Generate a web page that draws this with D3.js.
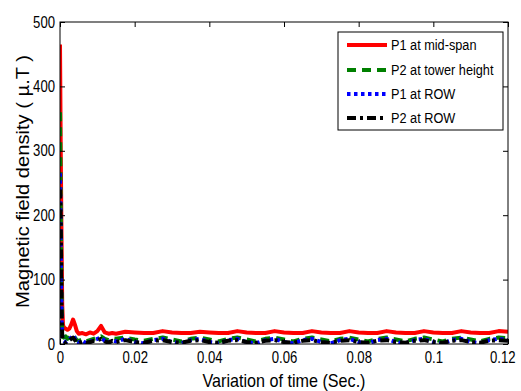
<!DOCTYPE html>
<html><head><meta charset="utf-8">
<script src="https://cdn.jsdelivr.net/npm/d3@7"></script>
<style>
body{margin:0;background:#fff;}
text{font-family:"Liberation Sans",Arial,sans-serif;}
</style></head><body>
<svg id="c" width="521" height="391"></svg>
<script>
const time = [0,0.0002,0.0004,0.0006,0.0008,0.001,0.0015,0.002,0.0025,0.003,0.0035,0.004,0.0045,0.005,0.006,0.007,0.008,0.009,0.010,0.011,0.012,0.013,0.014,0.015,
0.0175,0.02,0.0225,0.025,0.0275,0.03,0.0325,0.035,0.0375,0.04,0.0425,0.045,0.0475,0.05,0.0525,0.055,0.0575,0.06,0.0625,0.065,0.0675,0.07,0.0725,0.075,0.0775,0.08,0.0825,0.085,0.0875,0.09,0.0925,0.095,0.0975,0.1,0.1025,0.105,0.1075,0.11,0.1125,0.115,0.1175,0.12];
const p1Mid = [465,300,170,60,30,26,24,22,24,30,38,30,20,16,17,15,18,16,20,28,18,16,17,16,
19,18,17,17,20,18,17,17,19,18,17,17,20,18,17,17,20,18,17,17,20,18,17,17,20,18,17,17,20,18,17,17,20,18,17,17,20,18,17,17,20,19];
const p2Tower = [360,200,80,20,12,10,12,8,10,12,14,10,6,5,7,4,6,8,10,12,8,6,9,8,
10,7,5,8,10,7,4,8,10,7,4,8,10,7,4,8,10,7,4,8,10,7,4,8,10,7,4,8,10,7,4,8,10,7,4,8,10,7,4,8,10,9];
const p1Row = [265,150,40,12,6,5,3,6,8,10,14,8,3,2,5,1,3,6,8,10,5,2,6,4,
8,3,1,6,8,3,1,6,8,3,1,6,8,3,1,6,8,3,1,6,8,3,1,6,8,3,1,6,8,3,1,6,8,3,1,6,8,3,1,6,8,6];
const p2Row = [240,190,60,10,5,4,2,5,6,8,10,6,2,1,4,2,3,5,6,8,4,2,5,3,
6,3,2,5,6,3,2,5,6,3,2,5,6,3,2,5,6,3,2,5,6,3,2,5,6,3,2,5,6,3,2,5,6,3,2,5,6,3,2,5,6,5];
const seriesNames = ["P1 at mid-span","P2 at tower height","P1 at ROW","P2 at ROW"];
const xTicks = [0,0.02,0.04,0.06,0.08,0.1,0.12];
const xTickLabels = ["0","0.02","0.04","0.06","0.08","0.1","0.12"];
const yTicks = [0,100,200,300,400,500];

const seriesData = [p1Mid,p2Tower,p1Row,p2Row];
const colors = ["#ff0000","#008000","#0000ff","#000000"];
const dashes = [null,"9,6","3.5,3.5","9,4,3,4"];

const svg = d3.select("#c");
const L=60,R=508,T=22,B=344;
const x = d3.scaleLinear().domain([0,0.12]).range([L,R]);
const y = d3.scaleLinear().domain([0,500]).range([B,T]);

const plot = svg.append("g");
plot.append("defs").append("clipPath").attr("id","clip").append("rect")
 .attr("x",L).attr("y",T-2).attr("width",R-L).attr("height",B-T+2);

const line = d3.line().x((d,i)=>x(time[i])).y(d=>y(d));
[0,1,2,3].forEach(k=>{
  plot.append("path").datum(seriesData[k])
   .attr("clip-path","url(#clip)")
   .attr("d",line).attr("fill","none")
   .attr("stroke",colors[k]).attr("stroke-width",4)
   .attr("stroke-dasharray",dashes[k])
   .attr("stroke-linejoin","round");
});

const ax = svg.append("g");
ax.append("rect").attr("x",L).attr("y",T).attr("width",R-L).attr("height",B-T)
 .attr("fill","none").attr("stroke","#000").attr("stroke-width",1);
ax.append("g").attr("class","xb").attr("transform",`translate(0,${B})`)
 .call(d3.axisBottom(x).tickValues(xTicks).tickFormat((d,i)=>xTickLabels[i]).tickSizeInner(-5).tickSizeOuter(0).tickPadding(8));
ax.append("g").attr("transform",`translate(0,${T})`)
 .call(d3.axisTop(x).tickValues(xTicks).tickFormat("").tickSizeInner(-5).tickSizeOuter(0));
ax.append("g").attr("transform",`translate(${L},0)`)
 .call(d3.axisLeft(y).tickValues(yTicks).tickSizeInner(-5).tickSizeOuter(0).tickPadding(5));
ax.append("g").attr("transform",`translate(${R},0)`)
 .call(d3.axisRight(y).tickValues(yTicks).tickFormat("").tickSizeInner(-5).tickSizeOuter(0));
ax.selectAll(".domain").remove();
ax.selectAll(".tick line").attr("stroke","#000");
ax.selectAll(".tick text").attr("font-size",16).attr("fill","#000")
 .attr("font-family","'Liberation Sans',Arial,sans-serif");
// keep the last x label inside the window: right-align it near the reference's right edge
ax.selectAll(".xb .tick text").filter((d,i)=>i===xTicks.length-1)
 .attr("text-anchor","end").attr("dx",7);

const xl = svg.append("text").attr("x",284).attr("y",387).attr("text-anchor","middle")
 .attr("font-size",19).text("Variation of time (Sec.)");
const yll = svg.append("text").attr("transform","translate(29,181.5) rotate(-90)").attr("text-anchor","middle")
 .attr("font-size",18).text("Magnetic field density ( µ.T )");

const lg = svg.append("g");
lg.append("rect").attr("x",338).attr("y",32).attr("width",165).attr("height",98)
 .attr("fill","#fff").attr("stroke","#000").attr("stroke-width",1);
const ly=[45,70,94,118];
seriesNames.forEach((n,k)=>{
  lg.append("line").attr("x1",347).attr("x2",387).attr("y1",ly[k]).attr("y2",ly[k])
   .attr("stroke",colors[k]).attr("stroke-width",4).attr("stroke-dasharray",dashes[k]);
  lg.append("text").attr("x",391).attr("y",ly[k]+5).attr("font-size",15.5).text(n);
});

// condense all text horizontally (reference uses a narrow face)
svg.selectAll("text").each(function(){
  const len = this.getComputedTextLength();
  if(len>0) d3.select(this).attr("textLength",len*0.82).attr("lengthAdjust","spacingAndGlyphs");
});
xl.attr("textLength",163);
yll.attr("textLength",253);
</script></body></html>
